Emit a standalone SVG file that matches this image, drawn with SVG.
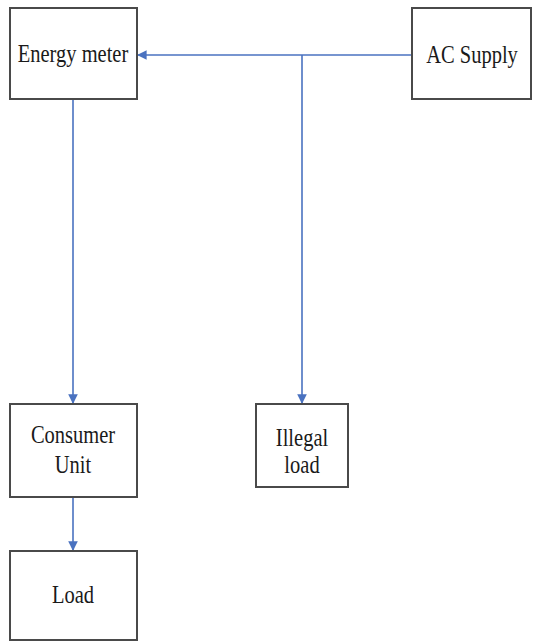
<svg xmlns="http://www.w3.org/2000/svg" width="533" height="641" viewBox="0 0 533 641">
<style>
.box{fill:#fff;stroke:#4a4a4a;stroke-width:2}
.lbl{font-family:"Liberation Serif","Times New Roman",serif;font-size:20.5px;fill:#1a1a1a;text-anchor:middle}
.conn{fill:none;stroke:#4a72c0;stroke-width:1.6}
</style>
<defs>
<marker id="ah" viewBox="0 0 10 10" refX="9" refY="5" markerWidth="6" markerHeight="6" orient="auto" markerUnits="strokeWidth">
<path d="M0,0 L10,5 L0,10 z" fill="#4a72c0"/>
</marker>
</defs>
<rect width="533" height="641" fill="#fff"/>
<g id="connectors">
<path class="conn" d="M412,55 L138,55" marker-end="url(#ah)"/>
<path class="conn" d="M302,55 L302,403" marker-end="url(#ah)"/>
<path class="conn" d="M73,99 L73,403" marker-end="url(#ah)"/>
<path class="conn" d="M73,497 L73,550" marker-end="url(#ah)"/>
</g>
<g id="energy-meter">
<rect class="box" x="10" y="8" width="127" height="91"/>
<text class="lbl" transform="translate(73,62) scale(1,1.25)">Energy meter</text>
</g>
<g id="ac-supply">
<rect class="box" x="412" y="8" width="119" height="91"/>
<text class="lbl" transform="translate(472,63) scale(1,1.25)">AC Supply</text>
</g>
<g id="consumer-unit">
<rect class="box" x="10" y="404" width="127" height="93"/>
<text class="lbl" transform="translate(73,443) scale(1,1.25)">Consumer</text>
<text class="lbl" transform="translate(73,473) scale(1,1.25)">Unit</text>
</g>
<g id="illegal-load">
<rect class="box" x="256" y="404" width="92" height="83"/>
<text class="lbl" transform="translate(302,446) scale(1,1.25)">Illegal</text>
<text class="lbl" transform="translate(302,473) scale(1,1.25)">load</text>
</g>
<g id="load">
<rect class="box" x="10" y="551" width="127" height="89"/>
<text class="lbl" transform="translate(73,603) scale(1,1.25)">Load</text>
</g>
</svg>
